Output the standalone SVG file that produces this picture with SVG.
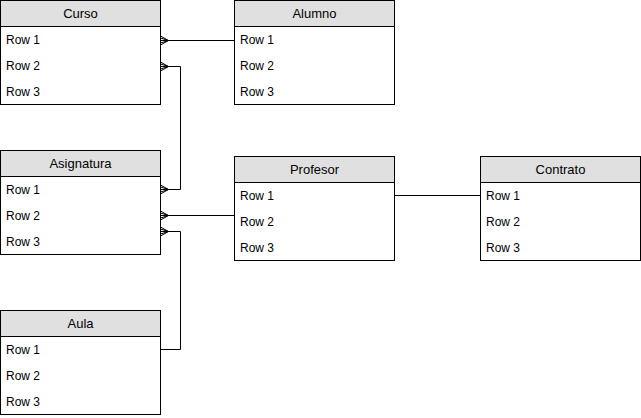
<svg xmlns="http://www.w3.org/2000/svg" width="641" height="418" viewBox="0 0 641 418">
<defs>
<marker id="many" viewBox="-10 -6 12 12" refX="0" refY="0" markerWidth="12" markerHeight="12" markerUnits="userSpaceOnUse" orient="auto-start-reverse" overflow="visible">
<path d="M0,-4.5 L-8,0 L0,4.5 M0,-2.5 L-8,0 L0,2.5" fill="none" stroke="#000" stroke-width="1"/>
</marker>
</defs>
<style>
.box{fill:#fff;stroke:#000;stroke-width:1}
.hdr{fill:#e0e0e0;stroke:#000;stroke-width:1}
.t{font-family:"Liberation Sans",Arial,sans-serif;font-size:12px;fill:#000}
.h{font-family:"Liberation Sans",Arial,sans-serif;font-size:13px;fill:#000;text-anchor:middle}
.c{fill:none;stroke:#000;stroke-width:1}
</style>
<g id="curso">
<rect class="box" x="0.5" y="0.5" width="160" height="104"/>
<rect class="hdr" x="0.5" y="0.5" width="160" height="26"/>
<text class="h" x="80.5" y="18">Curso</text>
<text class="t" x="6" y="44">Row 1</text>
<text class="t" x="6" y="70">Row 2</text>
<text class="t" x="6" y="96">Row 3</text>
</g>
<g id="alumno">
<rect class="box" x="234.5" y="0.5" width="160" height="104"/>
<rect class="hdr" x="234.5" y="0.5" width="160" height="26"/>
<text class="h" x="314.5" y="18">Alumno</text>
<text class="t" x="240" y="44">Row 1</text>
<text class="t" x="240" y="70">Row 2</text>
<text class="t" x="240" y="96">Row 3</text>
</g>
<g id="asignatura">
<rect class="box" x="0.5" y="150.5" width="160" height="104"/>
<rect class="hdr" x="0.5" y="150.5" width="160" height="26"/>
<text class="h" x="80.5" y="168">Asignatura</text>
<text class="t" x="6" y="194">Row 1</text>
<text class="t" x="6" y="220">Row 2</text>
<text class="t" x="6" y="246">Row 3</text>
</g>
<g id="profesor">
<rect class="box" x="234.5" y="156.5" width="160" height="104"/>
<rect class="hdr" x="234.5" y="156.5" width="160" height="26"/>
<text class="h" x="314.5" y="174">Profesor</text>
<text class="t" x="240" y="200">Row 1</text>
<text class="t" x="240" y="226">Row 2</text>
<text class="t" x="240" y="252">Row 3</text>
</g>
<g id="contrato">
<rect class="box" x="480.5" y="156.5" width="160" height="104"/>
<rect class="hdr" x="480.5" y="156.5" width="160" height="26"/>
<text class="h" x="560.5" y="174">Contrato</text>
<text class="t" x="486" y="200">Row 1</text>
<text class="t" x="486" y="226">Row 2</text>
<text class="t" x="486" y="252">Row 3</text>
</g>
<g id="aula">
<rect class="box" x="0.5" y="310.5" width="160" height="104"/>
<rect class="hdr" x="0.5" y="310.5" width="160" height="26"/>
<text class="h" x="80.5" y="328">Aula</text>
<text class="t" x="6" y="354">Row 1</text>
<text class="t" x="6" y="380">Row 2</text>
<text class="t" x="6" y="406">Row 3</text>
</g>
<g id="connectors">
<path class="c" d="M160.5,40.5 L234.5,40.5" marker-start="url(#many)"/>
<path class="c" d="M160.5,66.5 L180.5,66.5 L180.5,189.5 L160.5,189.5" marker-start="url(#many)" marker-end="url(#many)"/>
<path class="c" d="M160.5,215.5 L234.5,215.5" marker-start="url(#many)"/>
<path class="c" d="M160.5,231.5 L180.5,231.5 L180.5,349.5 L160.5,349.5" marker-start="url(#many)"/>
<path class="c" d="M394.5,195.5 L480.5,195.5"/>
</g>
</svg>
